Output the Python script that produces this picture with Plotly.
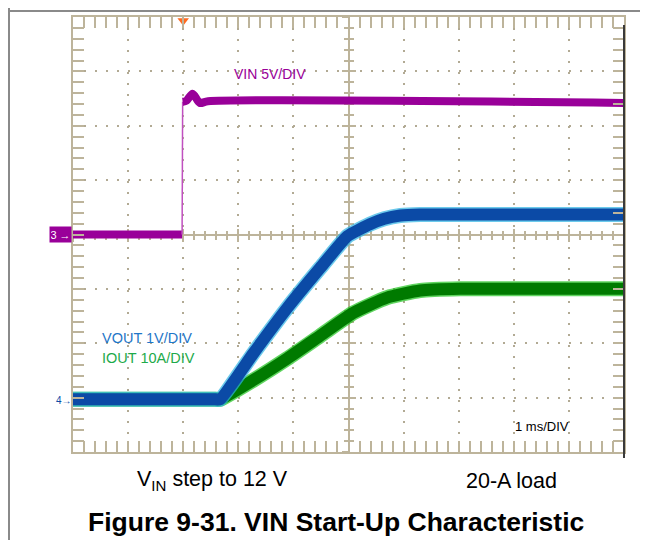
import plotly.graph_objects as go

# scope settings: 1 ms/div, trigger 2 div from the left
t_range = [-2, 8]

# VIN, 5 V/div, ground on the center line
vin_t = [-2.0, -0.02, -0.01, 0.06, 0.17, 0.30, 0.45, 8.0]
vin_v = [0.0, 0.0, 12.2, 12.3, 12.95, 12.1, 12.25, 12.1]

# VOUT, 1 V/div
vout_t = [-2.0, 0.0, 0.55, 0.67, 1.27, 1.89, 2.49, 2.98, 3.39, 3.65, 3.94, 4.3, 8.0]
vout_v = [0.0, 0.0, 0.0, 0.0, 0.84, 1.68, 2.42, 3.00, 3.22, 3.32, 3.38, 3.40, 3.40]

# IOUT, 10 A/div
iout_t = [-2.0, 0.0, 0.55, 0.67, 1.27, 1.89, 2.49, 3.09, 3.70, 4.30, 5.03, 8.0]
iout_a = [0.0, 0.0, 0.0, 0.0, 3.5, 7.5, 11.7, 15.9, 18.7, 20.0, 20.3, 20.3]

gnd_div = -3.03  # VOUT / IOUT ground marker position in divisions

tan = '#bdb49b'
dots = '#b2aa94'
purple = '#990099'
blue = '#0b4aa6'
cyan = '#2fb4e4'
green = '#007a00'
lgreen = '#1ec41e'
font = 'Liberation Sans, Arial, sans-serif'

# page body has an 8 px margin, so positions below are given in page pixels
# and converted to paper coords of the plot area (x 73..624, y 15..452)
def px(x):
    return (x - 73) / 551

def py(y):
    return (452 - y) / 437

fig = go.Figure()

# empty traces so the center cross axes get drawn
fig.add_trace(go.Scatter(x=[], y=[], xaxis='x2', yaxis='y', showlegend=False, hoverinfo='skip'))
fig.add_trace(go.Scatter(x=[], y=[], xaxis='x3', yaxis='y', showlegend=False, hoverinfo='skip'))
fig.add_trace(go.Scatter(x=[], y=[], xaxis='x', yaxis='y5', showlegend=False, hoverinfo='skip'))
fig.add_trace(go.Scatter(x=[], y=[], xaxis='x', yaxis='y6', showlegend=False, hoverinfo='skip'))

# trigger marker
fig.add_trace(go.Scatter(x=[0], y=[3.93], mode='markers', cliponaxis=False,
                         marker=dict(symbol='triangle-down', size=10, color='#ff6a20'),
                         showlegend=False, hoverinfo='skip'))

# VIN: thick before/after the step, thin edge
fig.add_trace(go.Scatter(x=vin_t[:2], y=vin_v[:2], yaxis='y2', mode='lines',
                         line=dict(color=purple, width=8), showlegend=False))
fig.add_trace(go.Scatter(x=vin_t[1:3], y=vin_v[1:3], yaxis='y2', mode='lines',
                         line=dict(color='#c050c0', width=1.5), showlegend=False))
fig.add_trace(go.Scatter(x=vin_t[2:], y=vin_v[2:], yaxis='y2', mode='lines',
                         line=dict(color=purple, width=8, shape='spline', smoothing=0.8),
                         showlegend=False))

# IOUT
fig.add_trace(go.Scatter(x=iout_t, y=iout_a, yaxis='y3', mode='lines',
                         line=dict(color=lgreen, width=15, shape='spline', smoothing=0.5),
                         opacity=0.7, showlegend=False))
fig.add_trace(go.Scatter(x=iout_t, y=iout_a, yaxis='y3', mode='lines',
                         line=dict(color=green, width=12, shape='spline', smoothing=0.5),
                         showlegend=False))

# VOUT
fig.add_trace(go.Scatter(x=vout_t, y=vout_v, yaxis='y4', mode='lines',
                         line=dict(color=cyan, width=15, shape='spline', smoothing=0.4),
                         opacity=0.7, showlegend=False))
fig.add_trace(go.Scatter(x=vout_t, y=vout_v, yaxis='y4', mode='lines',
                         line=dict(color=blue, width=12, shape='spline', smoothing=0.4),
                         showlegend=False))

frame = dict(showline=True, linecolor=tan, linewidth=2, mirror='allticks',
             ticks='inside', ticklen=11, tickwidth=2, tickcolor=tan,
             minor=dict(ticks='inside', ticklen=5, tickwidth=2, tickcolor=tan, dtick=0.2, showgrid=False),
             showgrid=True, gridcolor=dots, gridwidth=2,
             showticklabels=False, zeroline=False, fixedrange=True)

center = dict(showgrid=False, zeroline=False, showticklabels=False, layer='below traces',
              anchor='free', position=0.5, tickcolor=tan, tickwidth=2, fixedrange=True)

fig.update_layout(
    width=640, height=532,
    margin=dict(l=65, r=24, t=7, b=88),
    paper_bgcolor='white', plot_bgcolor='white',
    font=dict(family=font, color='black'),
    xaxis=dict(range=t_range, dtick=1, tick0=0, griddash='2px,8.93px', **frame),
    yaxis=dict(range=[-4, 4], dtick=1, tick0=0, griddash='2px,9.02px', **frame),
    xaxis2=dict(overlaying='x', range=t_range, dtick=1, tick0=0, showline=True, linecolor=tan,
                linewidth=2, ticks='outside', ticklen=6,
                minor=dict(ticks='outside', ticklen=4, tickwidth=2, tickcolor=tan, dtick=0.2),
                **center),
    xaxis3=dict(overlaying='x', range=t_range, dtick=1, tick0=0, showline=False,
                ticks='inside', ticklen=6,
                minor=dict(ticks='inside', ticklen=4, tickwidth=2, tickcolor=tan, dtick=0.2),
                **center),
    yaxis5=dict(overlaying='y', range=[-4, 4], dtick=1, tick0=0, showline=True, linecolor=tan,
                linewidth=2, ticks='outside', ticklen=6,
                minor=dict(ticks='outside', ticklen=4, tickwidth=2, tickcolor=tan, dtick=0.2),
                **center),
    yaxis6=dict(overlaying='y', range=[-4, 4], dtick=1, tick0=0, showline=False,
                ticks='inside', ticklen=6,
                minor=dict(ticks='inside', ticklen=4, tickwidth=2, tickcolor=tan, dtick=0.2),
                **center),
    yaxis2=dict(overlaying='y', range=[-20, 20], visible=False, fixedrange=True),
    yaxis3=dict(overlaying='y', range=[(-4 - gnd_div) * 10, (4 - gnd_div) * 10], visible=False, fixedrange=True),
    yaxis4=dict(overlaying='y', range=[-4 - gnd_div, 4 - gnd_div], visible=False, fixedrange=True),
)

# page border and the dark right edge of the screen capture
fig.add_shape(type='line', xref='paper', yref='paper', x0=px(9), x1=px(9), y0=py(0), y1=py(545),
              line=dict(color='#8a8a8a', width=2))
fig.add_shape(type='line', xref='paper', yref='paper', x0=px(0), x1=px(650), y0=py(9), y1=py(9),
              line=dict(color='#8a8a8a', width=2))
fig.add_shape(type='line', xref='paper', yref='paper', x0=1.0, x1=1.0, y0=py(23), y1=py(458),
              line=dict(color='#3a3a3a', width=2))

# channel labels
fig.add_annotation(x=0.89, y=2.95, xref='x', yref='y', text='VIN 5V/DIV', showarrow=False,
                   xanchor='left', yanchor='middle', font=dict(size=14, color=purple))
fig.add_annotation(x=-1.51, y=-1.90, xref='x', yref='y', text='VOUT 1V/DIV', showarrow=False,
                   xanchor='left', yanchor='middle', font=dict(size=14.5, color='#1f76c8'))
fig.add_annotation(x=-1.51, y=-2.28, xref='x', yref='y', text='IOUT 10A/DIV', showarrow=False,
                   xanchor='left', yanchor='middle', font=dict(size=14.5, color='#1eaa4a'))
fig.add_annotation(x=6.52, y=-3.54, xref='x', yref='y', text='1 ms/DIV', showarrow=False,
                   xanchor='center', yanchor='middle', font=dict(size=13, color='black'))

# ground markers
fig.add_annotation(x=px(60.5), y=0, xref='paper', yref='y', text='3 →', showarrow=False,
                   xanchor='center', yanchor='middle',
                   bgcolor=purple, width=19, height=13, borderpad=1,
                   font=dict(size=11, color='white'))
fig.add_annotation(x=px(64), y=gnd_div - 0.03, xref='paper', yref='y', text='4→', showarrow=False,
                   xanchor='center', yanchor='middle', font=dict(size=10, color=blue))

# captions under the scope picture
fig.add_annotation(x=px(212), y=py(481), xref='paper', yref='paper',
                   text='V<sub>IN</sub> step to 12 V', showarrow=False,
                   xanchor='center', yanchor='middle', font=dict(size=21.5))
fig.add_annotation(x=px(511), y=py(481), xref='paper', yref='paper',
                   text='20-A load', showarrow=False,
                   xanchor='center', yanchor='middle', font=dict(size=21.5))
fig.add_annotation(x=px(336), y=py(522), xref='paper', yref='paper',
                   text='<b>Figure 9-31. VIN Start-Up Characteristic</b>', showarrow=False,
                   xanchor='center', yanchor='middle', font=dict(size=26.5))

fig.write_html("out.html")
